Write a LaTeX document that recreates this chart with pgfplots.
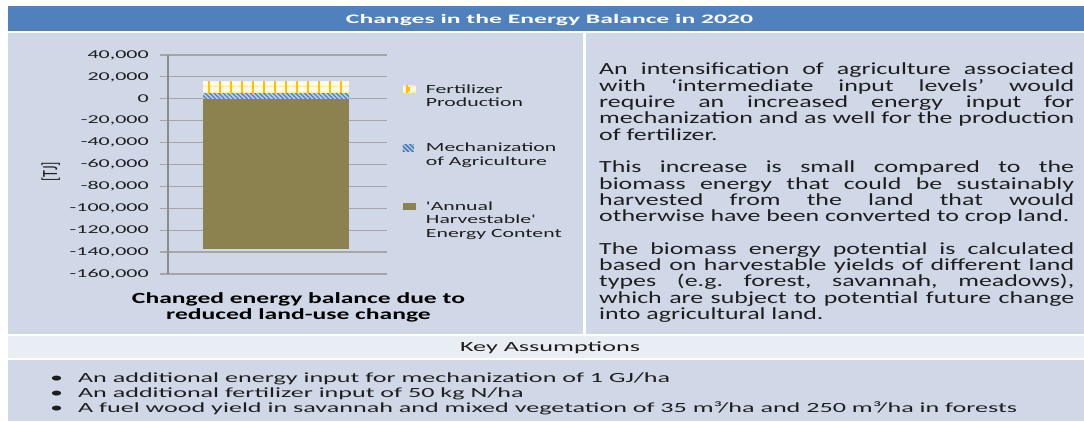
\documentclass[border=0pt]{standalone}
\usepackage{fontspec}
\setmainfont{Carlito}
\usepackage{graphicx}
\usepackage{pgfplots}
\pgfplotsset{compat=1.18}
\usepackage{pgfplotstable}
\usetikzlibrary{patterns.meta}

\definecolor{titleblue}{HTML}{4F81BD}
\definecolor{panel}{HTML}{D0D8E8}
\definecolor{panel2}{HTML}{E9EDF4}
\definecolor{gridgray}{HTML}{A6A6A6}
\definecolor{axisgray}{HTML}{8C8C8C}
\definecolor{olivebar}{HTML}{8C8250}
\definecolor{mechbg}{HTML}{B9CDE5}
\definecolor{mechline}{HTML}{4A7EBB}
\definecolor{fertbg}{HTML}{FFFCEB}
\definecolor{fertline}{HTML}{FFC000}
\definecolor{fertpale}{HTML}{FDEDB0}
\definecolor{txt}{HTML}{1E1E1E}

\frenchspacing
\newlength\rw
\newlength\tmpL
\newcommand\fitw[1]{\settowidth{\tmpL}{#1}\ifdim\tmpL>\rw \global\rw=\tmpL\relax\fi}
\newcommand\J[1]{\makebox[\linewidth][s]{#1}}
\newcommand\rfont{\fontsize{17bp}{16.3bp}\selectfont\frenchspacing}
\newcommand\bfont{\fontsize{14bp}{14bp}\selectfont}
\newcommand\lfont{\fontsize{12.5bp}{13.5bp}\selectfont}
\newcommand\tfont{\fontsize{12bp}{12bp}\selectfont}
\newcommand\lgtext[1]{\scalebox{1.74}[1]{\begin{tabular}[t]{@{}l@{}}#1\end{tabular}}}

\pgfplotstableread{
x annual mech fert
0 -137000 5000 11000
}\energydata

\begin{document}
\begin{tikzpicture}
\fill[white] (0,0) rectangle (1084bp,422bp);
\useasboundingbox (0,0) rectangle (1084bp,422bp);
% table background
\fill[titleblue] (8bp,391bp) rectangle (1084bp,416bp);
\fill[panel] (8bp,88bp) rectangle (583bp,389bp);
\fill[panel] (586bp,88bp) rectangle (1084bp,389bp);
\fill[panel2] (8bp,64bp) rectangle (1084bp,86bp);
\fill[panel] (8bp,1bp) rectangle (1084bp,62bp);

% title
\node[anchor=base, inner sep=0pt, text=white] at (549.5bp,398.7bp)
  {\resizebox{407bp}{\height}{\fontsize{13bp}{13bp}\selectfont\bfseries Changes in the Energy Balance in 2020}};

% chart
\begin{axis}[
  at={(168bp,148bp)}, anchor=south west,
  scale only axis, width=219bp, height=219bp,
  xmin=-0.74, xmax=0.76,
  ymin=-160000, ymax=40000,
  axis x line*=bottom, axis y line*=left,
  x axis line style={draw=gridgray, line width=1.2bp},
  y axis line style={draw=axisgray, line width=1.4bp},
  xtick=\empty,
  ytick={-160000,-140000,-120000,-100000,-80000,-60000,-40000,-20000,0,20000,40000},
  yticklabels={{-160,000},{-140,000},{-120,000},{-100,000},{-80,000},{-60,000},{-40,000},{-20,000},{0},{20,000},{40,000}},
  scaled y ticks=false,
  tick align=outside, major tick length=8bp,
  tick style={draw=gridgray, line width=1.2bp},
  ymajorgrids, grid style={draw=gridgray, line width=1.2bp},
  yticklabel style={font=\tfont, text=txt, xscale=1.83, inner sep=0pt, xshift=-6bp},
  ylabel={\scalebox{1}[1.55]{[TJ]}},
  ylabel style={at={(axis description cs:-0.535,0.467)}, anchor=center, font=\fontsize{14bp}{14bp}\selectfont, text=txt},
  legend cell align=left,
  legend style={at={(1.073,0.878)}, anchor=north west, draw=none, fill=none,
    inner sep=0pt, outer sep=0pt, font=\lfont, text=txt,
    row sep={58.5bp,between origins}, column sep=8bp,
    cells={anchor=base west, inner sep=0pt}},
]
\addplot[ybar, bar width=1, bar shift=0pt, draw=none, fill=fertbg,
  postaction={pattern={Lines[angle=0,distance=6bp,line width=2.2bp]}, pattern color=fertpale},
  postaction={pattern={Lines[angle=90,distance=11bp,line width=2bp]}, pattern color=fertline},
  legend image code/.code={
    \fill[fertbg] (0bp,0.5bp) rectangle (13bp,7.5bp);
    \fill[fertline] (5.5bp,0.5bp) rectangle (7.5bp,7.5bp);
    \fill[fertline] (0bp,6bp) rectangle (13bp,7.5bp);}]
  table[x=x, y expr=\thisrow{mech}+\thisrow{fert}] {\energydata};
\addlegendentry{\lgtext{Fertilizer\\Production}}
\addplot[ybar, bar width=1, bar shift=0pt, draw=none, fill=mechbg,
  postaction={pattern={Lines[angle=-45,distance=3.2bp,line width=1.2bp]}, pattern color=mechline},
  legend image code/.code={
    \fill[mechbg] (0bp,0.5bp) rectangle (11bp,7.5bp);
    \path[pattern={Lines[angle=-45,distance=3bp,line width=1.1bp]}, pattern color=mechline] (0bp,0.5bp) rectangle (11bp,7.5bp);}]
  table[x=x, y=mech] {\energydata};
\addlegendentry{\lgtext{Mechanization\\of Agriculture}}
\addplot[ybar, bar width=1, bar shift=0pt, draw=none, fill=olivebar,
  legend image code/.code={
    \fill[olivebar] (0bp,0.5bp) rectangle (13bp,7.5bp);}]
  table[x=x, y=annual] {\energydata};
\addlegendentry{\lgtext{\textquotesingle Annual\\Harvestable\textquotesingle\\Energy Content}}
\end{axis}

% chart caption
\node[anchor=base, inner sep=0pt, text=black] at (298.5bp,118.7bp)
  {\resizebox{333bp}{\height}{\fontsize{15.5bp}{16bp}\selectfont\bfseries\begin{tabular}[t]{@{}c@{}}Changed energy balance due to\\reduced land-use change\end{tabular}}};

% right text
\node[anchor=base west, inner sep=0pt, text=txt] at (599bp,347bp)
  {\rfont\global\rw=0pt
   \fitw{mechanization and as well for the production}%
   \fitw{otherwise have been converted to crop land.}%
   \fitw{based on harvestable yields of different land}%
   \fitw{which are subject to potential future change}%
   \ifdim\rw<10pt \global\rw=320bp\fi
   \resizebox{475bp}{\height}{\parbox[t]{\rw}{\rfont
  \J{An intensification of agriculture associated}\\
  \J{with ‘intermediate input levels’ would}\\
  \J{require an increased energy input for}\\
  \J{mechanization and as well for the production}\\
  of fertilizer.\\[16.3bp]
  \J{This increase is small compared to the}\\
  \J{biomass energy that could be sustainably}\\
  \J{harvested from the land that would}\\
  otherwise have been converted to crop land.\\[16.3bp]
  \J{The biomass energy potential is calculated}\\
  \J{based on harvestable yields of different land}\\
  \J{types (e.g. forest, savannah, meadows),}\\
  \J{which are subject to potential future change}\\
  into agricultural land.}}};

% key assumptions
\node[anchor=base, inner sep=0pt, text=txt] at (550bp,70.5bp)
  {\resizebox{180bp}{\height}{\bfont Key Assumptions}};
\node[anchor=base west, inner sep=0pt, text=txt] at (50bp,39bp)
  {\resizebox{967bp}{\height}{\bfont\begin{tabular}[t]{@{}c@{\hspace{8bp}}l@{}}
  \textbullet & An additional energy input for mechanization of 1 GJ/ha\\
  \textbullet & An additional fertilizer input of 50 kg N/ha\\
  \textbullet & A fuel wood yield in savannah and mixed vegetation of 35 m³/ha and 250 m³/ha in forests
  \end{tabular}}};
\end{tikzpicture}
\end{document}
